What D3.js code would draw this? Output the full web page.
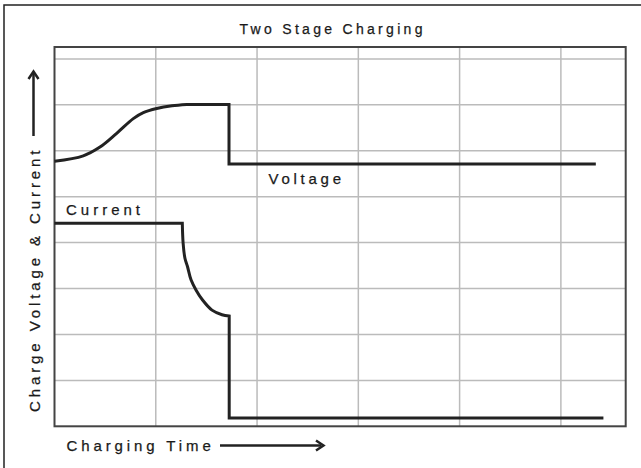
<!DOCTYPE html>
<html>
<head>
<meta charset="utf-8">
<script src="https://cdn.jsdelivr.net/npm/d3@7"></script>
<style>
  body { margin: 0; background: #fff; }
  svg text { font-family: "Liberation Sans", Arial, sans-serif; fill: #1a1a1a; stroke: #1a1a1a; stroke-width: 0.25px; }
</style>
</head>
<body>
<svg width="641" height="468"></svg>
<script>
// grid positions (chart units)
var xTicks = [1, 2, 3, 4, 5];
var yTicks = [1, 2, 3, 4, 5, 6, 7, 8];

// voltage: smooth rise, then steps
var voltageCurve = [
  [0, 5.77], [0.284, 5.89], [0.449, 6.08], [0.614, 6.38], [0.778, 6.70],
  [0.877, 6.83], [1.009, 6.92], [1.16, 6.98], [1.305, 7.01]
];
var voltageSteps = [[1.305, 7.01], [1.723, 7.01], [1.723, 5.71], [5.345, 5.71]];

// current: flat, decay, then drop
var currentFlat = [[0, 4.42], [1.262, 4.42]];
var currentCurve = [
  [1.262, 4.42], [1.270, 3.99], [1.288, 3.66], [1.313, 3.48], [1.348, 3.19],
  [1.397, 2.97], [1.462, 2.75], [1.555, 2.53], [1.654, 2.43], [1.725, 2.40]
];
var currentSteps = [[1.725, 2.40], [1.725, 0.18], [5.42, 0.18]];

var svg = d3.select("svg");
var plotL = 54.5, plotR = 625.7, plotT = 47, plotB = 426.3;

var x = d3.scaleLinear().domain([0, 5.64]).range([plotL, plotR]);
var y = d3.scaleLinear().domain([0, 8.26]).range([plotB, plotT]);

// outer frame (only top and left show)
svg.append("path")
  .attr("d", "M4,468V5H641")
  .attr("fill", "none")
  .attr("stroke", "#222")
  .attr("stroke-width", 1.5);

// grid
svg.append("g")
  .selectAll("line")
  .data(xTicks)
  .enter()
  .append("line")
    .attr("x1", d => x(d)).attr("x2", d => x(d))
    .attr("y1", plotT).attr("y2", plotB)
    .attr("stroke", "#bbb")
    .attr("stroke-width", 1.5);

svg.append("g")
  .selectAll("line")
  .data(yTicks)
  .enter()
  .append("line")
    .attr("x1", plotL).attr("x2", plotR)
    .attr("y1", d => y(d)).attr("y2", d => y(d))
    .attr("stroke", "#bbb")
    .attr("stroke-width", 1.5);

// plot border
svg.append("rect")
  .attr("x", plotL).attr("y", plotT)
  .attr("width", plotR - plotL).attr("height", plotB - plotT)
  .attr("fill", "none")
  .attr("stroke", "#444")
  .attr("stroke-width", 2);

var smooth = d3.line().x(d => x(d[0])).y(d => y(d[1])).curve(d3.curveCatmullRom.alpha(0.5));
var straight = d3.line().x(d => x(d[0])).y(d => y(d[1]));

function join(a, b) {
  return a + b.replace(/^M/, "L");
}

svg.append("path")
  .attr("d", join(smooth(voltageCurve), straight(voltageSteps)))
  .attr("fill", "none")
  .attr("stroke", "#222")
  .attr("stroke-width", 3);

svg.append("path")
  .attr("d", join(join(straight(currentFlat), smooth(currentCurve)), straight(currentSteps)))
  .attr("fill", "none")
  .attr("stroke", "#222")
  .attr("stroke-width", 3);

// texts
function label(txt, tx, ty, size, spacing) {
  return svg.append("text")
    .attr("x", tx).attr("y", ty)
    .style("font-size", size + "px")
    .style("letter-spacing", spacing + "px")
    .text(txt);
}

label("Two Stage Charging", 239.5, 34, 14, 3.3);
label("Voltage", 268.5, 183.5, 15, 3.75);
label("Current", 66, 215, 15, 4);
label("Charging Time", 66.5, 450.5, 15, 3.9);

svg.append("text")
  .attr("transform", "translate(39.5,412) rotate(-90)")
  .style("font-size", "15px")
  .style("letter-spacing", "3.9px")
  .text("Charge Voltage & Current");

// arrows
svg.append("line")
  .attr("x1", 220).attr("x2", 321).attr("y1", 445.5).attr("y2", 445.5)
  .attr("stroke", "#222").attr("stroke-width", 2.5);
svg.append("path")
  .attr("d", "M316,440.5L323.5,445.5L316,450.5")
  .attr("fill", "none").attr("stroke", "#222").attr("stroke-width", 2.5);

svg.append("line")
  .attr("x1", 33.5).attr("x2", 33.5).attr("y1", 136).attr("y2", 74)
  .attr("stroke", "#222").attr("stroke-width", 2.5);
svg.append("path")
  .attr("d", "M28.5,79L33.5,71.5L38.5,79")
  .attr("fill", "none").attr("stroke", "#222").attr("stroke-width", 2.5);
</script>
</body>
</html>
